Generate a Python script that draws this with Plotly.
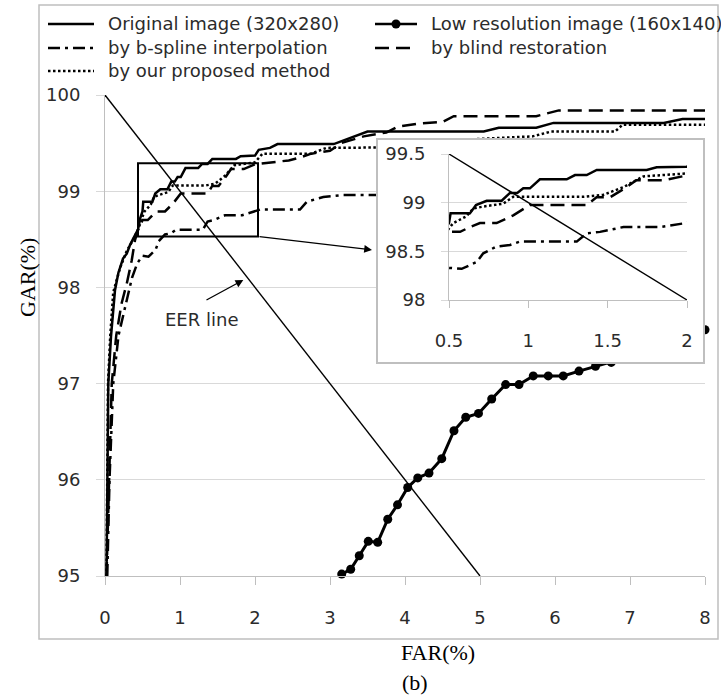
import plotly.graph_objects as go

W, H = 721, 695

# ---------------- data ----------------
far_original = [0.02, 0.035, 0.044, 0.08, 0.133, 0.178, 0.24, 0.29, 0.333, 0.378, 0.40, 0.44, 0.47, 0.50,
                0.51, 0.632, 0.67, 0.7375, 0.832, 0.884, 0.93, 0.968, 1.01, 1.073, 1.242, 1.294, 1.368,
                1.431, 1.746, 1.809, 2.0, 2.05, 2.2, 2.3, 3.05, 3.25, 3.5, 5.05, 5.25, 5.75, 5.98, 7.45,
                7.7, 8.0]
gar_original = [95.0, 96.0, 97.0, 97.49, 97.97, 98.15, 98.30, 98.35, 98.44, 98.51, 98.54, 98.60, 98.72, 98.79,
                98.89, 98.89, 98.976, 99.02, 99.02, 99.10, 99.10, 99.147, 99.147, 99.24, 99.24, 99.284, 99.284,
                99.336, 99.336, 99.363, 99.37, 99.43, 99.45, 99.49, 99.49, 99.55, 99.62, 99.62, 99.66, 99.66,
                99.71, 99.71, 99.75, 99.75]

far_bspline = [0.03, 0.06, 0.11, 0.18, 0.30, 0.36, 0.43, 0.50, 0.58, 0.674, 0.716, 0.80, 0.884, 0.947,
               1.305, 1.368, 1.452, 1.515, 1.60, 1.83, 2.0, 2.07, 2.6, 2.69, 2.91, 3.17, 3.62, 4.5, 5.5,
               6.5, 7.5, 8.0]
gar_bspline = [95.0, 96.0, 97.0, 97.5, 97.9, 98.1, 98.25, 98.33, 98.32, 98.39, 98.48, 98.55, 98.565, 98.60,
               98.60, 98.685, 98.70, 98.72, 98.75, 98.75, 98.79, 98.81, 98.81, 98.89, 98.94, 98.96, 98.96,
               99.0, 99.08, 99.15, 99.21, 99.24]

far_proposed = [0.02, 0.03, 0.04, 0.07, 0.11, 0.20, 0.29, 0.38, 0.45, 0.502, 0.527, 0.61, 0.653, 0.716,
                0.842, 0.905, 1.346, 1.472, 1.60, 1.725, 2.0, 2.1, 2.75, 2.95, 4.6, 4.9, 5.7, 5.95, 6.8,
                6.9, 8.0]
gar_proposed = [95.0, 96.0, 97.0, 97.5, 97.95, 98.2, 98.38, 98.5, 98.62, 98.74, 98.79, 98.86, 98.94, 98.96,
                98.99, 99.06, 99.06, 99.08, 99.16, 99.27, 99.30, 99.39, 99.39, 99.45, 99.46, 99.54, 99.57,
                99.62, 99.62, 99.69, 99.69]

far_blind = [0.02, 0.05, 0.09, 0.15, 0.22, 0.29, 0.356, 0.40, 0.45, 0.502, 0.57, 0.632, 0.695, 0.80, 0.905,
             1.01, 1.368, 1.43, 1.515, 1.62, 1.68, 1.85, 2.0, 2.45, 2.6, 2.75, 3.0, 3.15, 3.45, 3.75, 3.9,
             4.15, 4.5, 4.65, 5.75, 6.05, 8.0]
gar_blind = [95.0, 96.0, 97.0, 97.5, 97.83, 98.04, 98.28, 98.49, 98.62, 98.70, 98.70, 98.75, 98.79, 98.79,
             98.87, 98.976, 98.976, 99.055, 99.055, 99.16, 99.23, 99.23, 99.28, 99.32, 99.35, 99.39, 99.42,
             99.50, 99.57, 99.61, 99.67, 99.70, 99.72, 99.78, 99.78, 99.84, 99.84]

far_lowres = [3.156, 3.276, 3.39, 3.51, 3.636, 3.77, 3.90, 4.036, 4.17, 4.32, 4.49, 4.653, 4.81, 4.98,
              5.156, 5.342, 5.52, 5.71, 5.91, 6.11, 6.32, 6.54, 6.75, 6.95, 7.15, 7.35, 7.55, 7.78, 8.0]
gar_lowres = [95.02, 95.07, 95.21, 95.36, 95.35, 95.59, 95.74, 95.92, 96.02, 96.07, 96.22, 96.51, 96.65,
              96.69, 96.84, 96.99, 96.99, 97.08, 97.08, 97.08, 97.13, 97.18, 97.22, 97.27, 97.33, 97.38,
              97.44, 97.50, 97.56]

far_eer = [0, 5]
gar_eer = [100, 95]

main_xticks = [0, 1, 2, 3, 4, 5, 6, 7, 8]
main_yticks = [95, 96, 97, 98, 99, 100]
inset_xticks = [0.5, 1, 1.5, 2]
inset_xticklabels = ["0.5", "1", "1.5", "2"]
inset_yticks = [98, 98.5, 99, 99.5]
inset_yticklabels = ["98", "98.5", "99", "99.5"]

legend_labels = ["Original image (320x280)", "Low resolution image (160x140)",
                 "by b-spline interpolation", "by blind restoration", "by our proposed method"]

zoom_far = [0.44, 2.04]
zoom_gar = [98.53, 99.29]

# ---------------- helpers ----------------
def px(x):
    return x / W


def py(y):
    return 1 - y / H


SANS = "DejaVu Sans"
SERIF = "Liberation Serif"
GRID = "#d9d9d9"
AXIS = "#bfbfbf"
TXT = "#2b2b2b"

DASH_BSPLINE = "12px,5px,3px,5px"
DASH_PROPOSED = "2.5px,2.5px"
DASH_BLIND = "14px,7px"
LW = 2.5

fig = go.Figure()

series = [
    (far_original, gar_original, "solid"),
    (far_bspline, gar_bspline, DASH_BSPLINE),
    (far_proposed, gar_proposed, DASH_PROPOSED),
    (far_blind, gar_blind, DASH_BLIND),
]

# main plot
for fx, gy, dash in series:
    fig.add_trace(go.Scatter(x=fx, y=gy, mode="lines", line=dict(color="black", width=LW, dash=dash),
                             showlegend=False, hoverinfo="skip", xaxis="x", yaxis="y"))
fig.add_trace(go.Scatter(x=far_lowres, y=gar_lowres, mode="lines+markers", cliponaxis=False,
                         line=dict(color="black", width=3), marker=dict(color="black", size=9),
                         showlegend=False, hoverinfo="skip", xaxis="x", yaxis="y"))
fig.add_trace(go.Scatter(x=far_eer, y=gar_eer, mode="lines", line=dict(color="black", width=1.4),
                         showlegend=False, hoverinfo="skip", xaxis="x", yaxis="y"))

# inset frame (white box)
fig.add_trace(go.Scatter(x=[0.5], y=[0.5], mode="markers", marker=dict(opacity=0),
                         showlegend=False, hoverinfo="skip", xaxis="x2", yaxis="y2"))

# inset plot
for fx, gy, dash in series:
    fig.add_trace(go.Scatter(x=fx, y=gy, mode="lines", line=dict(color="black", width=LW, dash=dash),
                             showlegend=False, hoverinfo="skip", xaxis="x3", yaxis="y3"))
fig.add_trace(go.Scatter(x=far_eer, y=gar_eer, mode="lines", line=dict(color="black", width=1.4),
                         showlegend=False, hoverinfo="skip", xaxis="x3", yaxis="y3"))

tickfont = dict(family=SANS, size=18, color=TXT)

fig.update_layout(
    template="none",
    width=W, height=H,
    autosize=False,
    margin=dict(l=0, r=0, t=0, b=0, pad=0, autoexpand=False),
    paper_bgcolor="white", plot_bgcolor="white",
    showlegend=False,
    xaxis=dict(domain=[px(105), px(705)], range=[0, 8], tickvals=main_xticks, ticks="outside", ticklen=8,
               tickcolor=AXIS, showline=True, linecolor=AXIS, linewidth=1, showgrid=False, zeroline=False,
               tickfont=tickfont, ticklabelstandoff=17, anchor="y", fixedrange=True, automargin=False),
    yaxis=dict(domain=[py(576), py(95)], range=[95, 100], tickvals=main_yticks, ticks="outside", ticklen=8,
               tickcolor=GRID, showline=True, linecolor=AXIS, linewidth=1, showgrid=True, gridcolor=GRID,
               gridwidth=1, zeroline=False, tickfont=tickfont, ticklabelstandoff=12, anchor="x",
               fixedrange=True, automargin=False),
    xaxis2=dict(domain=[px(378), px(703)], range=[0, 1], showline=True, mirror=True, linecolor=AXIS,
                linewidth=1.5, showticklabels=False, ticks="", showgrid=False, zeroline=False, anchor="y2",
                fixedrange=True, automargin=False),
    yaxis2=dict(domain=[py(362), py(140)], range=[0, 1], showline=True, mirror=True, linecolor=AXIS,
                linewidth=1.5, showticklabels=False, ticks="", showgrid=False, zeroline=False, anchor="x2",
                fixedrange=True, automargin=False),
    xaxis3=dict(domain=[px(449), px(687)], range=[0.5, 2], tickvals=inset_xticks, ticktext=inset_xticklabels,
                ticks="outside", ticklen=7, tickcolor=AXIS, showline=True, linecolor=AXIS, linewidth=1,
                showgrid=False, zeroline=False, tickfont=tickfont, ticklabelstandoff=17, anchor="y3",
                fixedrange=True, automargin=False),
    yaxis3=dict(domain=[py(300), py(154)], range=[98, 99.5], tickvals=inset_yticks, ticktext=inset_yticklabels,
                ticks="outside", ticklen=7, tickcolor=GRID, showline=True, linecolor=AXIS, linewidth=1,
                showgrid=True, gridcolor=GRID, zeroline=False, tickfont=tickfont, ticklabelstandoff=12,
                anchor="x3", fixedrange=True, automargin=False),
)

shapes = []
# outer frame
shapes.append(dict(type="rect", xref="paper", yref="paper", x0=px(39), x1=px(718), y0=py(639), y1=py(5),
                   line=dict(color=AXIS, width=1.5), layer="below"))
# zoom rectangle
shapes.append(dict(type="rect", xref="x", yref="y", x0=zoom_far[0], x1=zoom_far[1], y0=zoom_gar[0],
                   y1=zoom_gar[1], line=dict(color="black", width=2), layer="above"))

# legend samples
rows = [24, 48, 71]
c1 = (48, 94)
c2 = (375, 417)
legend_items = [
    (c1, rows[0], "solid", False),
    (c2, rows[0], "solid", True),
    (c1, rows[1], DASH_BSPLINE, False),
    (c2, rows[1], DASH_BLIND, False),
    (c1, rows[2], DASH_PROPOSED, False),
]
annotations = []
for (cx, ry, dash, marker), label in zip(legend_items, legend_labels):
    shapes.append(dict(type="line", xref="paper", yref="paper", x0=px(cx[0]), x1=px(cx[1]), y0=py(ry), y1=py(ry),
                       line=dict(color="black", width=LW, dash=dash)))
    if marker:
        mx = (cx[0] + cx[1]) / 2
        r = 4.5
        shapes.append(dict(type="circle", xref="paper", yref="paper", x0=px(mx - r), x1=px(mx + r),
                           y0=py(ry + r), y1=py(ry - r), fillcolor="black", line=dict(color="black", width=0)))
    annotations.append(dict(text=label, xref="paper", yref="paper", x=px(cx[1] + 13), y=py(ry),
                            xanchor="left", yanchor="middle", showarrow=False, borderpad=0,
                            font=dict(family=SANS, size=18, color=TXT)))

# arrow from zoom box to inset
annotations.append(dict(text="", x=3.56, y=98.39, ax=zoom_far[1], ay=zoom_gar[0], xref="x", yref="y",
                        axref="x", ayref="y", showarrow=True, arrowhead=2, arrowsize=1.2, arrowwidth=1.3,
                        arrowcolor="black"))
# EER line label and arrow
annotations.append(dict(text="", x=1.844, y=98.077, ax=1.333, ay=97.86, xref="x", yref="y",
                        axref="x", ayref="y", showarrow=True, arrowhead=2, arrowsize=1.2, arrowwidth=1.3,
                        arrowcolor="black"))
annotations.append(dict(text="EER line", x=1.289, y=97.67, xref="x", yref="y", showarrow=False,
                        xanchor="center", yanchor="middle", font=dict(family=SANS, size=18, color=TXT)))

# axis titles
annotations.append(dict(text="GAR(%)", xref="paper", yref="paper", x=px(27), y=py(277), textangle=-90,
                        showarrow=False, xanchor="center", yanchor="middle",
                        font=dict(family=SERIF, size=22, color="black")))
annotations.append(dict(text="FAR(%)", xref="paper", yref="paper", x=px(438), y=py(652), showarrow=False,
                        xanchor="center", yanchor="middle", font=dict(family=SERIF, size=22, color="black")))
annotations.append(dict(text="(b)", xref="paper", yref="paper", x=px(415), y=py(682), showarrow=False,
                        xanchor="center", yanchor="middle", font=dict(family=SERIF, size=22, color="black")))

fig.update_layout(shapes=shapes, annotations=annotations)

fig.write_html("out.html", config={"displayModeBar": False},
               post_script="document.body.style.margin='0px';document.body.style.overflow='hidden';")
